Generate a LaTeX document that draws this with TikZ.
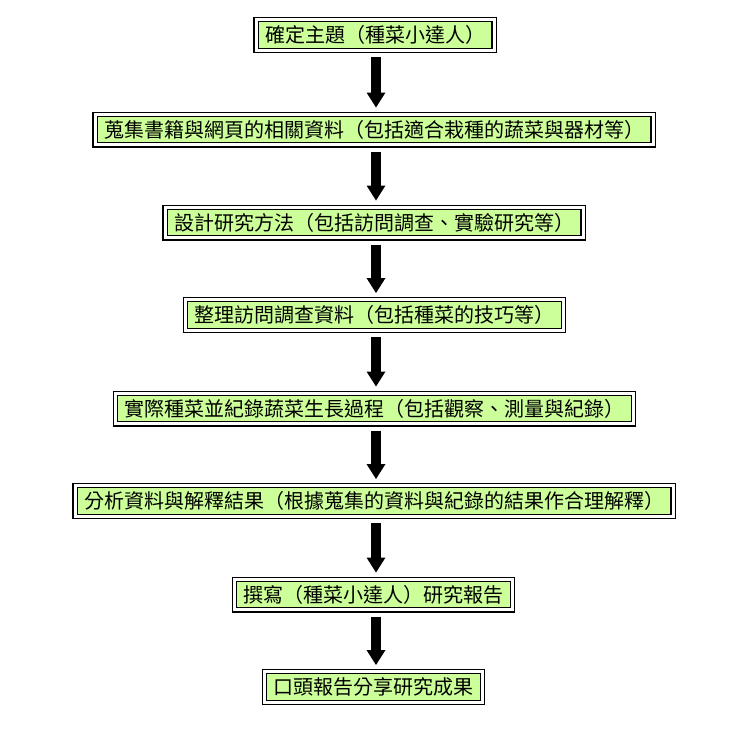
\documentclass[tikz,border=0pt]{standalone}
\usepackage{fontspec}
\newfontfamily\cjk{Noto Sans CJK TC}
\usetikzlibrary{arrows.meta}
\definecolor{leaf}{RGB}{204,255,153}
\tikzstyle{stage}=[draw, double, double distance=3pt, line width=1.2pt, fill=leaf, inner xsep=9pt, inner ysep=0pt, minimum height=30.6pt, outer sep=2.7pt, font=\cjk\fontsize{20pt}{24pt}\selectfont]
\tikzstyle{flow}=[draw=black, line width=10pt, -{Triangle[width=19pt, length=15pt, line width=0pt]}, shorten <=4pt, shorten >=4pt]

\begin{document}
\begin{tikzpicture}[x=1pt, y=-1pt]
            \useasboundingbox (0,0) rectangle (755,732);

            \begin{scope}[every node/.style={stage}]
                \node (1) at (375,35) {確定主題（種菜小達人）};
                \node (2) at (374,129.5) {蒐集書籍與網頁的相關資料（包括適合栽種的蔬菜與器材等）};
                \node (3) at (374,222.5) {設計研究方法（包括訪問調查、實驗研究等）};
                \node (4) at (374.5,315) {整理訪問調查資料（包括種菜的技巧等）};
                \node (5) at (374.5,408.5) {實際種菜並紀錄蔬菜生長過程（包括觀察、測量與紀錄）};
                \node (6) at (374,501) {分析資料與解釋結果（根據蒐集的資料與紀錄的結果作合理解釋）};
                \node (7) at (373.5,594.5) {撰寫（種菜小達人）研究報告};
                \node (8) at (373.5,687) {口頭報告分享研究成果};
            \end{scope}

            \begin{scope}[every path/.style={flow}]
                \path (1.south -| 376,0) -- (2.north -| 376,0);
                \path (2.south -| 376,0) -- (3.north -| 376,0);
                \path (3.south -| 376,0) -- (4.north -| 376,0);
                \path (4.south -| 376,0) -- (5.north -| 376,0);
                \path (5.south -| 376,0) -- (6.north -| 376,0);
                \path (6.south -| 376,0) -- (7.north -| 376,0);
                \path (7.south -| 376,0) -- (8.north -| 376,0);
            \end{scope}
        \end{tikzpicture}
\end{document}
